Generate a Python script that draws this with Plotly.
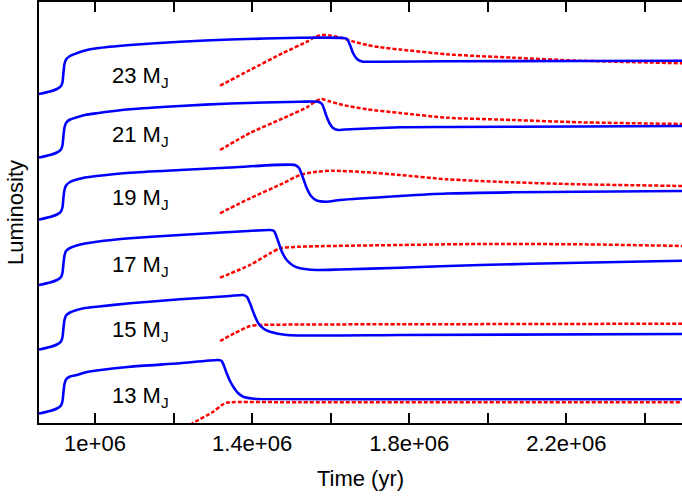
import plotly.graph_objects as go

# ---- data (time in yr, luminosity in arbitrary offset units) ----
masses = ["23", "21", "19", "17", "15", "13"]

t_b23 = [857400, 885400, 903200, 913400, 917300, 919800, 922300, 926200, 936300, 953400, 974500, 1004300, 1089100, 1216400, 1343700, 1522000, 1631400, 1641600, 1649300, 1656900, 1667100, 1679800, 1725700, 1896200, 2234900, 2500000]
L_b23 = [329, 331.5, 334, 337, 341, 351, 359, 363.5, 367, 369.7, 372.5, 374.7, 378, 381.3, 383.5, 385.2, 385, 384, 378, 370, 364, 361.5, 361.3, 361.7, 362, 362.3]

t_b21 = [857400, 885400, 903200, 913400, 917300, 919800, 922300, 926200, 936300, 953400, 974500, 1004300, 1089100, 1216400, 1343700, 1522000, 1567800, 1578000, 1589900, 1598300, 1606000, 1618700, 1636500, 1776600, 1896200, 2234900, 2500000]
L_b21 = [265.5, 268, 270.5, 273.5, 278, 288, 295.5, 300, 303.5, 305.7, 308, 309.7, 313.7, 317, 319.5, 321.3, 321.3, 319, 306.3, 299, 295, 293, 293.5, 295.7, 296, 296.5, 297]

t_b19 = [857400, 885400, 903200, 913400, 917300, 919800, 922300, 926200, 936300, 953400, 974500, 1004300, 1089100, 1216400, 1343700, 1509200, 1519400, 1527100, 1539000, 1550000, 1564500, 1589900, 1623800, 1776600, 1896200, 2064300, 2234900, 2500000]
L_b19 = [203.5, 206, 208.5, 211.5, 216, 226, 233, 237.5, 241, 243.5, 245.5, 247, 250.3, 253, 255.5, 258, 255, 248, 235, 227, 222.5, 221.3, 223, 227, 229.5, 230.7, 231.3, 232]

t_b17 = [857400, 885400, 903200, 913400, 917300, 919800, 922300, 926200, 936300, 953400, 974500, 1004300, 1089100, 1216400, 1343700, 1445600, 1455800, 1466700, 1476100, 1488100, 1504100, 1522000, 1564500, 1623800, 1776600, 1980300, 2234900, 2500000]
L_b17 = [138, 140.5, 143, 146, 150.5, 160, 167.5, 172, 175, 177.5, 179.5, 181.3, 184.7, 188, 191, 193, 192, 181.3, 171, 163, 157.5, 154.7, 153, 153.5, 155.3, 158, 160.3, 162.3]

t_b15 = [857400, 885400, 903200, 913400, 917300, 919800, 922300, 926200, 936300, 953400, 974500, 1004300, 1089100, 1216400, 1343700, 1377600, 1387000, 1394700, 1404800, 1415800, 1430300, 1445600, 1488100, 1776600, 2500000]
L_b15 = [73.5, 76, 78.5, 81.5, 86, 95.5, 103, 107.5, 110.5, 113, 115, 116.3, 119.7, 123.7, 127, 128, 126, 119.7, 109, 99.7, 94, 91.3, 88, 88, 89]

t_b13 = [857400, 885400, 903200, 913400, 917300, 919800, 922300, 926200, 936300, 953400, 974500, 1004300, 1089100, 1216400, 1313200, 1322600, 1328500, 1335300, 1343700, 1352100, 1364100, 1377600, 1399700, 1420100, 1776600, 2500000]
L_b13 = [9.5, 12, 14.5, 17.5, 22, 31.5, 39, 43.5, 46.5, 48, 50.5, 52.5, 56.3, 59.7, 63, 62, 57, 49.7, 42, 36.3, 30, 26.3, 24.5, 24, 23.7, 23.7]

t_r23 = [1318300, 1394700, 1478700, 1539800, 1560200, 1578000, 1598300, 1631400, 1662000, 1692600, 1725700, 1776600, 1896200, 2064300, 2234900, 2500000]
L_r23 = [337.3, 353, 370, 381.3, 386, 388, 387.5, 384.7, 381, 378, 375.7, 373.5, 368.7, 365.3, 362.3, 359.7]

t_r21 = [1318300, 1394700, 1478700, 1539800, 1562700, 1577200, 1598300, 1631400, 1692600, 1776600, 1896200, 2064300, 2234900, 2500000]
L_r21 = [273, 290, 304.7, 315.7, 322, 324, 321.5, 318, 313.7, 310, 305.3, 303, 300.7, 299]

t_r19 = [1318300, 1394700, 1478700, 1522000, 1564500, 1606000, 1692600, 1776600, 1896200, 2064300, 2234900, 2500000]
L_r19 = [209.7, 224.7, 239.7, 248, 251.3, 252.3, 250.7, 248, 243.7, 240.7, 238.7, 237]

t_r17 = [1318300, 1394700, 1445600, 1471000, 1522000, 1776600, 1980300, 2234900, 2500000]
L_r17 = [145.3, 158, 169.7, 174.7, 176.3, 178, 179, 178.7, 177]

t_r15 = [1318300, 1356500, 1394700, 1420100, 1522000, 1776600, 2500000]
L_r15 = [82, 90, 97, 98, 98.5, 98.7, 99.3]

t_r13 = [1216400, 1249500, 1301200, 1323400, 1335300, 1522000, 2500000]
L_r13 = [-8, 0, 11.3, 18, 20.3, 20.7, 20.7]

tick_vals = [1.0e6, 1.2e6, 1.4e6, 1.6e6, 1.8e6, 2.0e6, 2.2e6, 2.4e6]
tick_text = ["1e+06", "", "1.4e+06", "", "1.8e+06", "", "2.2e+06", ""]

blue = [(t_b23, L_b23), (t_b21, L_b21), (t_b19, L_b19), (t_b17, L_b17), (t_b15, L_b15), (t_b13, L_b13)]
red = [(t_r23, L_r23), (t_r21, L_r21), (t_r19, L_r19), (t_r17, L_r17), (t_r15, L_r15), (t_r13, L_r13)]

# label placement (not data)
label_x = 1116000
label_y = [346, 287.3, 224, 157.3, 92.3, 26.3]

FONT = "Liberation Sans, Arial, Helvetica, sans-serif"

fig = go.Figure()
for (t, L) in red:
    fig.add_trace(go.Scatter(x=t, y=L, mode="lines",
                             line=dict(color="#ff0000", width=2.5, dash="4px,2px",
                                       shape="spline", smoothing=0.6),
                             showlegend=False, hoverinfo="skip"))
for (t, L) in blue:
    fig.add_trace(go.Scatter(x=t, y=L, mode="lines",
                             line=dict(color="#0000ff", width=2.6, shape="spline", smoothing=0.6),
                             showlegend=False, hoverinfo="skip"))

for m, ly in zip(masses, label_y):
    fig.add_annotation(x=label_x, y=ly, xref="x", yref="y",
                       text=f"{m} M<sub>J</sub>", showarrow=False,
                       xanchor="center", yanchor="middle",
                       font=dict(family=FONT, size=22, color="black"))

fig.update_layout(
    width=682, height=499,
    margin=dict(l=39, r=0, t=2, b=76),
    plot_bgcolor="white", paper_bgcolor="white",
    font=dict(family=FONT, size=22, color="black"),
    xaxis=dict(range=[857400, 2494600], tickmode="array", tickvals=tick_vals, ticktext=tick_text,
               ticks="inside", ticklen=10, tickwidth=1.5, tickcolor="black",
               showline=True, linewidth=2, linecolor="black", mirror="ticks",
               showgrid=False, zeroline=False,
               title=dict(text="Time (yr)", font=dict(family=FONT, size=22), standoff=15),
               tickfont=dict(family=FONT, size=22)),
    yaxis=dict(range=[0, 421], showticklabels=False, ticks="",
               showline=True, linewidth=2, linecolor="black", mirror=False,
               showgrid=False, zeroline=False,
               title=dict(text="Luminosity", font=dict(family=FONT, size=22), standoff=7)),
)

fig.write_html("out.html", config={"displayModeBar": False},
               post_script="document.body.style.margin='0px';")
